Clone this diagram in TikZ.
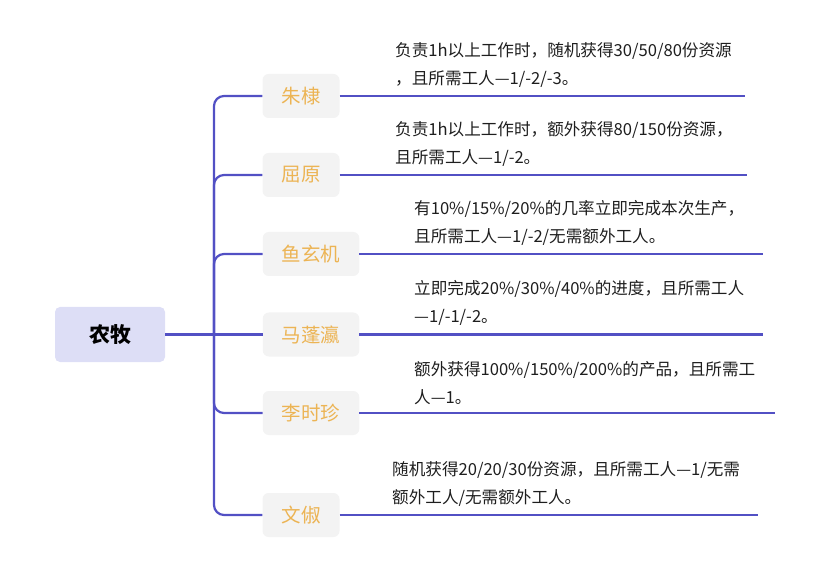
\documentclass[tikz,border=0pt]{standalone}
\usepackage{fontspec}
\setmainfont{Noto Sans CJK SC}
\usepackage{tikz}
\usetikzlibrary{positioning,calc}
\definecolor{linkblue}{RGB}{82,80,196}
\definecolor{namebg}{RGB}{243,243,243}
\definecolor{nametext}{RGB}{236,180,84}
\definecolor{rootbg}{RGB}{221,222,246}
\definecolor{notetext}{RGB}{30,30,30}
\begin{document}
\begin{tikzpicture}[x=1pt,y=-1pt,
  rootbox/.style={fill=rootbg,rounded corners=5pt,minimum width=110pt,minimum height=55pt,
    font=\fontsize{21}{21}\selectfont\bfseries,text=black},
  person/.style={fill=namebg,rounded corners=6pt,inner xsep=19pt,minimum height=44pt,
    font=\fontsize{19.5}{19.5}\selectfont,text=nametext},
  note/.style={anchor=south west,inner sep=0pt,align=left,text=notetext,
    font=\fontsize{16.6}{28}\selectfont},
  link/.style={draw=linkblue,line width=2.2pt},
  branch/.style={link,rounded corners=10pt}]

    \useasboundingbox (0,0) rectangle (828,564);

    \node[rootbox](root) at (110,334.5) {农牧};
    \coordinate (hub) at (214,334.5);

    \node[person](p1) at (301,96) {朱棣};
    \node[person](p2) at (301,175) {屈原};
    \node[person](p3) at (311,254) {鱼玄机};
    \node[person](p4) at (311,334.5) {马蓬瀛};
    \node[person](p5) at (311,413) {李时珍};
    \node[person](p6) at (301,515) {文俶};

    \coordinate (e1) at (745,96);
    \coordinate (e2) at (747,175);
    \coordinate (e3) at (763,254);
    \coordinate (e4) at (763,334.5);
    \coordinate (e5) at (775,413);
    \coordinate (e6) at (758,515);

    \node[note](d1) at (395,88) {负责1h以上工作时，随机获得30/50/80份资源\\，且所需工人—1/-2/-3。};
    \node[note](d2) at (395,167) {负责1h以上工作时，额外获得80/150份资源，\\且所需工人—1/-2。};
    \node[note](d3) at (414,246) {有10\%/15\%/20\%的几率立即完成本次生产，\\且所需工人—1/-2/无需额外工人。};
    \node[note](d4) at (414,326) {立即完成20\%/30\%/40\%的进度，且所需工人\\—1/-1/-2。};
    \node[note](d5) at (414,405) {额外获得100\%/150\%/200\%的产品，且所需工\\人—1。};
    \node[note](d6) at (392,507) {随机获得20/20/30份资源，且所需工人—1/无需\\额外工人/无需额外工人。};

    \draw[link](root.east) -- (hub);
    \draw[branch](hub) |- (p1.west);
    \draw[branch](hub) |- (p2.west);
    \draw[branch](hub) |- (p3.west);
    \draw[link](hub) -- (p4.west);
    \draw[branch](hub) |- (p5.west);
    \draw[branch](hub) |- (p6.west);

    \draw[link](p1.east) -- (e1);
    \draw[link](p2.east) -- (e2);
    \draw[link](p3.east) -- (e3);
    \draw[link](p4.east) -- (e4);
    \draw[link](p5.east) -- (e5);
    \draw[link](p6.east) -- (e6);
\end{tikzpicture}
\end{document}
